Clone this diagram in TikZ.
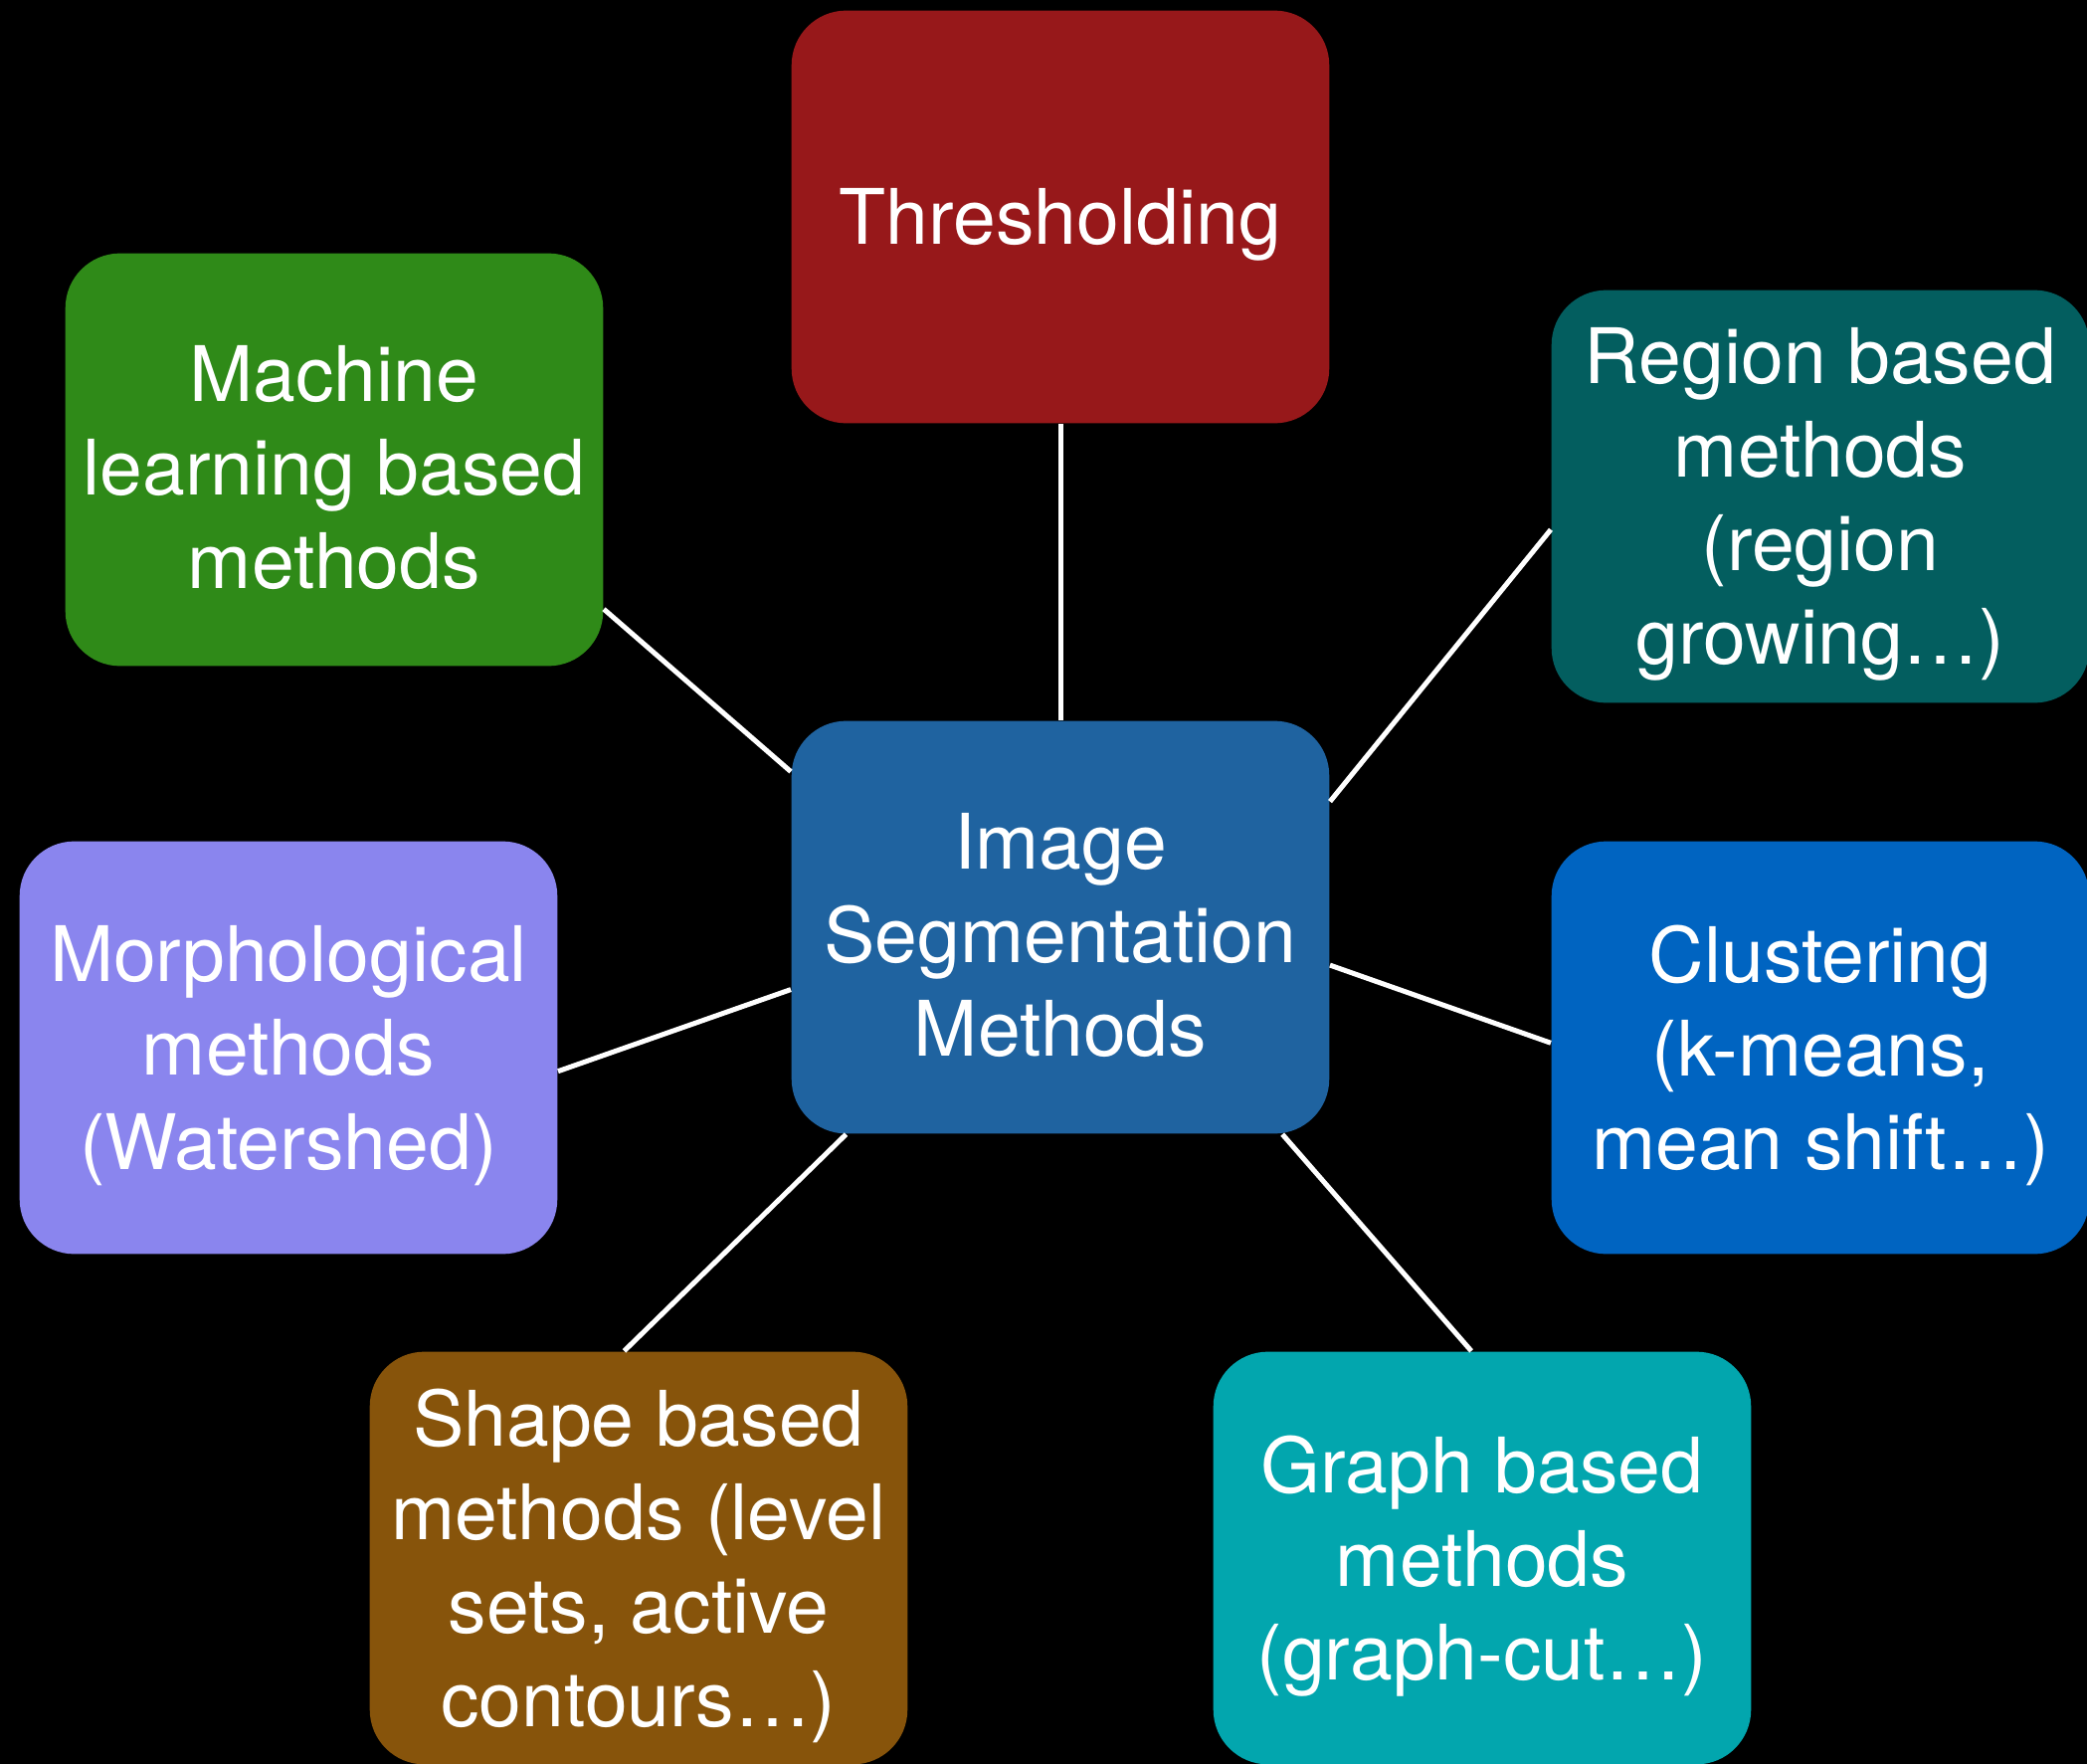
\documentclass[tikz,border=0pt]{standalone}
\usepackage{fontspec}
\setmainfont{TeX Gyre Heros}
\definecolor{threshred}{HTML}{97181A}
\definecolor{mlgreen}{HTML}{2F8A18}
\definecolor{regionteal}{HTML}{035E5F}
\definecolor{hubblue}{HTML}{1F63A0}
\definecolor{morphlilac}{HTML}{8A85EE}
\definecolor{clusterblue}{HTML}{0064C1}
\definecolor{shapebrown}{HTML}{87540B}
\definecolor{graphcyan}{HTML}{02A6AE}
\tikzstyle{method}=[rectangle, rounded corners=5.5mm,
                    minimum width=54.06mm, minimum height=41.48mm,
                    inner sep=0pt]
\tikzstyle{caption}=[text=white, align=center, inner sep=0pt, yshift=-0.8mm,
                     font=\fontsize{21.9}{26.8}\selectfont]
\tikzstyle{link}=[draw=white, line width=0.5mm]

\begin{document}
\begin{tikzpicture}[x=0.1mm, y=-0.1mm]
  \fill[black] (0,0) rectangle (2098,1773);
  \clip (0,0) rectangle (2098,1773);
  % Hub and the surrounding method families
  \node[method, fill=hubblue, label={[caption]center:{Image\\Segmentation\\Methods}}] (ctr) at (1066,932) {};
  \node[method, fill=threshred, label={[caption]center:{Thresholding}}] (thr) at (1066,218) {};
  \node[method, fill=mlgreen, label={[caption]center:{Machine\\learning based\\methods}}] (ml) at (336,462) {};
  \node[method, fill=regionteal, label={[caption]center:{Region based\\methods\\(region\\growing…)}}] (reg) at (1830,499) {};
  \node[method, fill=morphlilac, label={[caption]center:{Morphological\\methods\\(Watershed)}}] (mor) at (290,1053) {};
  \node[method, fill=clusterblue, label={[caption]center:{Clustering\\(k-means,\\mean shift…)}}] (clu) at (1830,1053) {};
  \node[method, fill=shapebrown, label={[caption]center:{Shape based\\methods (level\\sets, active\\contours…)}}] (shp) at (642,1566) {};
  \node[method, fill=graphcyan, label={[caption]center:{Graph based\\methods\\(graph-cut…)}}] (gra) at (1490,1566) {};
  %
  % Spokes
  \foreach \source/\dest in {thr.south/ctr.north, ml.-29/ctr.150,
           reg.-173/ctr.25, mor.-5/ctr.-167, clu.179/ctr.-8.5,
           shp.94/ctr.-136, gra.93.5/ctr.-43}
    \path (\source) edge[link] (\dest);
\end{tikzpicture}
\end{document}
